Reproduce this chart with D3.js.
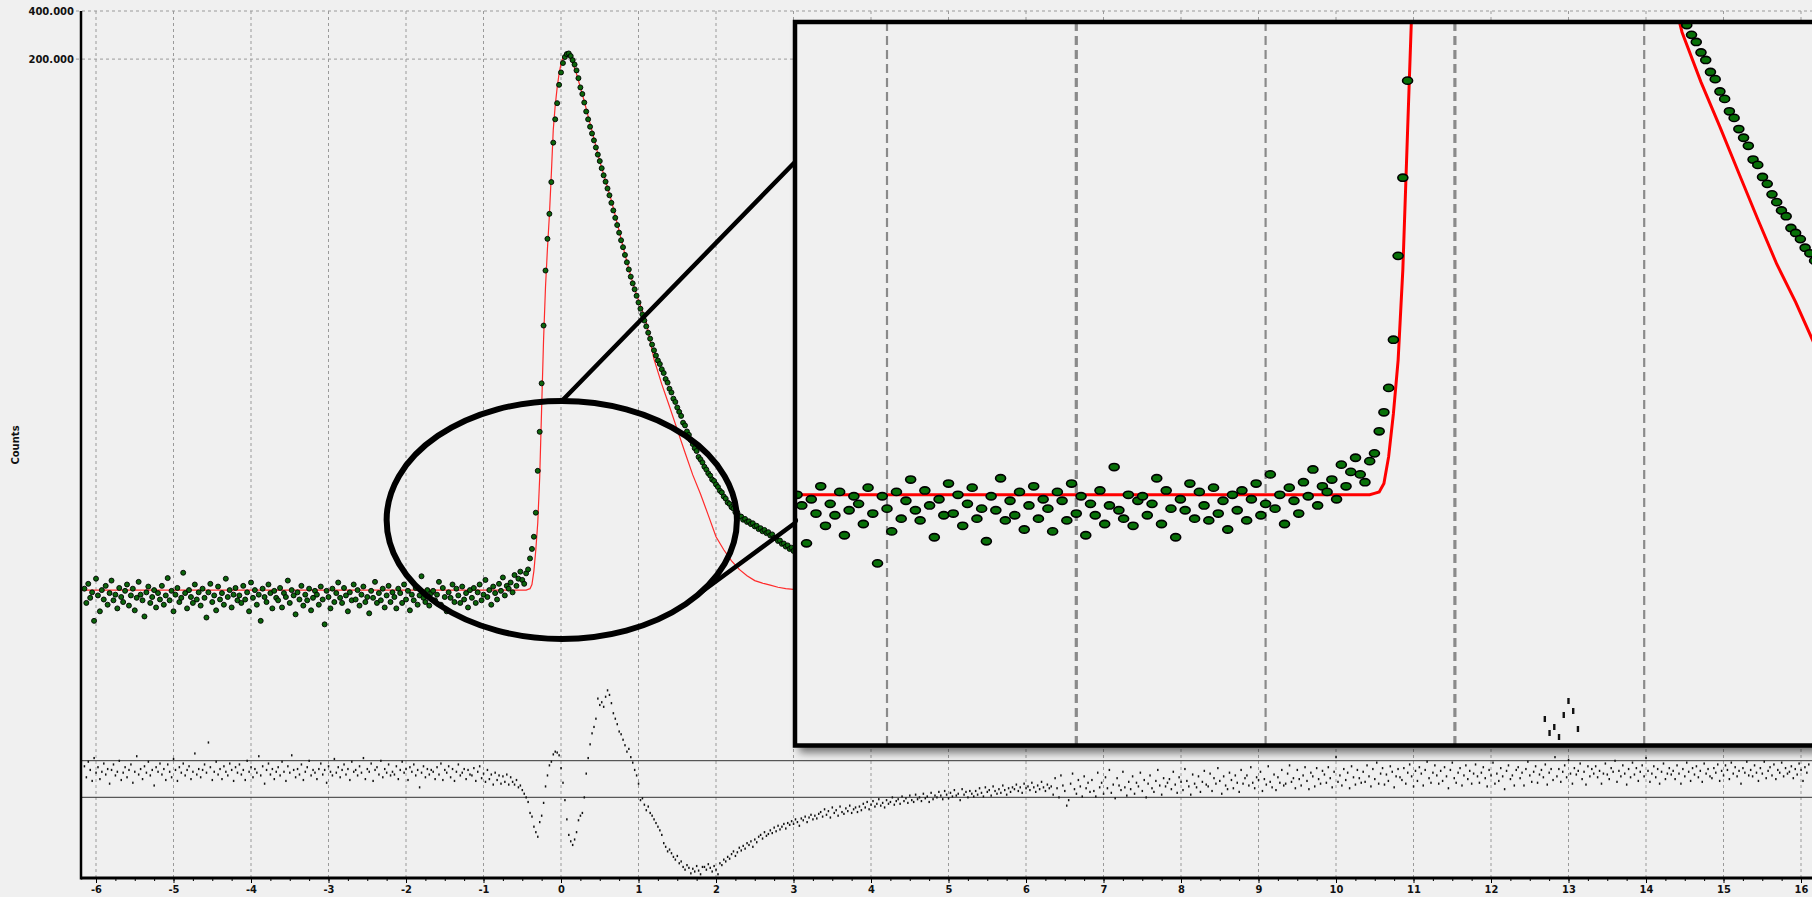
<!DOCTYPE html>
<html>
<head>
<meta charset="utf-8">
<script src="https://cdn.jsdelivr.net/npm/d3@7"></script>
<style>
  html, body { margin: 0; padding: 0; background: #f0f0f0; }
  svg { display: block; }
</style>
</head>
<body>
<svg id="chart" width="1812" height="897"></svg>
<script>
// time axis of the histogram (ns)
const channelStart = -6.15;
const channelWidth = 0.025;

// measured counts per channel, -6.15 ns .. 3.0 ns (the rest is hidden behind the zoom box)
const counts = [
  97,79,104,85,92,61,112,88,70,95,83,101,77,91,109,82,89,73,98,86,
  80,94,103,76,88,97,71,85,107,89,82,65,92,100,79,86,95,74,91,83,
  101,77,88,113,82,94,70,89,98,80,85,122,91,73,95,86,79,103,83,92,
  76,97,85,64,92,104,80,88,71,100,83,91,77,112,86,95,74,89,98,82,
  88,79,101,83,92,70,106,85,95,77,89,61,97,86,80,103,91,73,94,85,
  82,98,74,91,86,109,79,95,88,67,92,83,101,76,89,82,97,71,85,94,
  89,77,100,83,58,94,86,73,97,80,91,106,85,79,98,88,70,92,82,103,
  83,95,76,89,100,80,86,68,94,85,107,79,91,82,97,74,88,101,80,92,
  86,73,97,91,79,103,83,94,71,89,82,98,77,88,116,85,80,95,76,91,
  94,82,89,107,77,98,86,70,92,85,103,80,97,88,79,100,83,91,74,95,
  85,98,79,92,103,82,89,110,86,95,77,100,91,83,104,94,114,88,101,97,
  106,92,118,101,112,124,
  110,104,121,128,150,172,205,290,530,930,1870,4300,9500,15000,21500,34000,60000,84000,106000,138000,165000,
  189000,206000,215000,217000,209000,197000,185000,170000,152000,133000,121000,107000,94000,84000,75500,68500,62000,56000,50500,46000,
  41500,37500,34200,31000,28100,25200,22600,20300,18300,16400,14700,13300,11900,10700,9650,8700,7900,7250,6600,6000,
  5480,5050,4620,4250,3880,3560,3270,3010,2790,2600,2470,2290,2170,1990,1890,1730,1640,1500,1430,1320,
  1240,1170,1060,1020,935,890,825,780,735,705,648,625,598,562,540,512,495,468,458,436,
  420,398,388,366,355,336,329,314,308,292,291,276,274,262,265,254,256,246,249,238,
  240,229,232,222,226,216,219,209,212,202,200,193,194,185,186,178,181,172,175,167
];

// weighted residuals per channel (tenths of sigma), -6.15 ns .. 16.1 ns
const residuals = [
  14,2,19,10,-2,23,7,13,0,8,17,5,11,-5,10,16,4,8,20,-1,
  7,13,2,10,16,-4,8,25,5,11,0,14,7,19,4,10,-7,13,8,17,
  5,11,-1,16,8,2,22,10,-2,13,7,17,4,10,14,0,8,28,5,11,
  2,10,16,7,40,13,-1,8,19,5,11,0,14,8,4,17,10,-2,13,7,
  16,5,10,-1,20,8,13,2,11,7,25,4,14,-5,10,17,5,11,0,8,
  13,4,19,8,-2,14,7,26,10,2,11,5,16,-1,8,13,20,4,10,7,
  0,11,17,5,10,-4,14,8,4,22,7,13,2,10,16,5,11,-1,19,8,
  10,4,14,7,23,0,11,8,17,-2,10,13,5,20,2,11,7,16,4,8,
  5,14,0,10,19,7,11,-1,13,8,16,4,10,-9,7,14,2,11,5,10,
  8,0,13,5,17,-1,10,7,14,2,11,-2,8,16,4,7,11,0,10,5,
  4,12,-2,8,14,1,6,-3,10,0,5,-6,7,-1,4,-5,3,-3,5,-6,
  2,-3,-6,-1,-9,-7,-12,-16,-20,-25,-37,-41,-52,-58,-63,-47,-40,-26,-8,4,
  15,19,27,30,29,26,12,-4,-23,-44,-61,-68,-72,-66,-58,-45,-40,-37,-20,6,
  23,38,50,57,66,88,81,84,79,90,97,92,83,72,66,60,52,49,43,37,
  30,33,24,18,10,4,-5,-23,-21,-28,-34,-30,-37,-40,-44,-48,-52,-56,-61,-70,
  -74,-79,-77,-81,-85,-88,-84,-92,-90,-96,-99,-94,-97,-103,-98,-101,-95,-100,-104,-96,
  -96,-99,-93,-97,-101,-95,-99,-104,-92,-94,-88,-90,-85,-87,-82,-79,-84,-80,-75,-78,
  -73,-76,-70,-72,-68,-74,-66,-69,-63,-61,-65,-58,-62,-60,-56,-59,-53,-57,-51,-55,
  -52,-49,-54,-48,-50,-46,-49,-44,-47,-51,-43,-45,-41,-47,-42,-39,-44,-40,-43,-38,
  -36,-41,-33,-39,-35,-42,-31,-37,-34,-40,-30,-36,-38,-32,-35,-29,-37,-33,-31,-36,
  -30,-34,-27,-31,-25,-33,-28,-24,-30,-27,-22,-29,-26,-31,-23,-27,-25,-20,-28,-24,
  -22,-27,-19,-24,-21,-26,-18,-23,-25,-17,-22,-20,-24,-16,-21,-19,-25,-15,-22,-18,
  -20,-14,-18,-22,-13,-17,-21,-15,-19,-12,-18,-16,-23,-11,-17,-14,-20,-13,-16,-19,
  -13,-17,-10,-15,-19,-9,-14,-12,-18,-8,-13,-16,-11,-15,-7,-12,-17,-10,-14,-9,
  -11,-6,-13,-9,-15,-5,-10,-8,-12,-4,-9,-14,-7,-11,-3,-9,-13,-6,-10,-8,
  -17,1,-10,-20,4,-7,-13,-29,-23,-5,6,-11,-16,-1,-8,-19,3,-10,-4,-14,
  -1,-13,-19,7,-9,-4,-16,2,-10,10,-15,-6,-21,1,-7,-12,8,-9,-18,-3,
  -11,3,-16,-4,-8,7,-13,-1,-20,-5,4,-10,-14,-2,10,-7,-17,1,-8,-4,
  0,-11,8,-6,-15,2,-3,-12,11,-2,-8,-17,5,-5,-9,3,-14,-3,9,-6,
  -8,6,-13,1,-5,12,-2,-16,3,-7,-11,7,-1,-10,4,-4,-14,10,-5,1,
  4,-7,13,-4,-10,2,-1,8,-13,0,-6,14,-3,-9,5,-12,2,-4,10,-7,
  -5,6,15,-3,1,-10,10,0,-7,4,13,-2,-11,7,3,-8,12,0,-5,9,
  5,-4,13,1,-9,8,24,-3,4,-7,11,-1,7,-10,14,2,-6,10,1,-4,
  8,-3,15,3,-8,11,0,18,-5,6,12,-6,5,-2,14,8,-9,3,11,2,
  -1,12,-5,7,16,3,-8,9,-2,13,6,-7,10,19,1,-4,7,15,4,-5,
  9,-2,13,3,-10,10,18,1,-4,7,12,-7,4,15,0,9,-5,6,16,3,
  -4,7,13,1,-8,10,4,18,-5,6,-2,12,3,-11,9,15,0,4,-7,10,
  13,1,7,-7,11,19,4,-3,8,14,-4,5,10,2,16,-6,7,11,-1,24,
  3,11,-3,8,15,2,21,6,-5,12,5,9,17,0,8,-6,14,3,11,6,
  14,2,9,-5,6,17,5,0,12,8,20,-3,9,3,15,6,-6,11,2,18,
  5,12,-2,8,15,3,23,9,-3,6,14,2,11,-5,8,17,0,6,12,5,
  9,0,15,6,-5,11,3,18,8,-2,12,5,14,2,9,-3,17,6,11,3,
  1,12,7,16,-2,9,4,15,10,0,18,6,13,3,9,-5,12,7,19,4,
  10,3,15,7,-2,12,6,19,1,9,13,4,16,0,10,7,18,3,12,6,
  8,14,1,11,5,17,10,-2,13,7,16
];

// fitted decay curve
const fitTimes = [-6.2, -0.45, -0.425, -0.4, -0.375, -0.35, -0.325, -0.3, -0.275, -0.25, -0.225, -0.2, -0.175,
  -0.15, -0.125, -0.1, -0.075, -0.05, -0.025, 0, 0.025, 0.05, 0.075, 0.1, 0.15, 0.2, 0.25, 0.3, 0.35, 0.4,
  0.45, 0.5, 0.55, 0.6, 0.65, 0.7, 0.75, 0.8, 0.85, 0.9, 0.95, 1.0, 1.1, 1.2, 1.3, 1.4, 1.5, 1.6, 1.7, 1.8,
  1.9, 2.0, 2.1, 2.2, 2.3, 2.4, 2.5, 2.6, 2.7, 2.8, 2.9, 3.0, 16.1];
const fitCounts = [95, 95, 96, 97, 103, 125, 170, 250, 480, 1300, 3500, 7500, 13000,
  21000, 38000, 72000, 102000, 132000, 162000, 187000, 204000, 214000, 217000, 213000, 190000, 162000, 133000, 109000, 88000, 71000,
  57000, 46000, 38000, 31500, 26000, 21000, 16800, 13400, 10800, 8800, 7300, 6200, 4500, 2650, 1850, 1340, 960, 690, 500, 380,
  280, 205, 170, 145, 128, 117, 109, 105, 102, 99, 97, 96, 95];

const xTicks = [-6, -5, -4, -3, -2, -1, 0, 1, 2, 3, 4, 5, 6, 7, 8, 9, 10, 11, 12, 13, 14, 15, 16];
const yTicks = [400000, 200000];
const yTickLabels = ["400.000", "200.000"];
const insetTicks = [-3, -2, -1, 0, 1];

// region circled on the main plot (ns, counts)
const zoomTimes = [-2.25, 2.27];
const zoomCounts = [47, 1450];

let svg = d3.select("#chart");

let dims = { left: 81, right: 1812, top: 11, bottom: 878 };

let xScale = d3.scaleLinear().domain([-6, 16]).range([96, 1801]);
let yScale = d3.scaleLog().domain([1.5, 400000]).range([dims.bottom, dims.top]);
let rScale = d3.scaleLinear().domain([-20, 20]).range([797.3, 760.7]); // residual band

let points = counts.map((c, i) => ({ t: channelStart + i * channelWidth, c: c }));
let resPoints = residuals.map((v, i) => ({ t: channelStart + i * channelWidth, v: v }));
let fit = fitTimes.map((t, i) => ({ t: t, c: fitCounts[i] }));

let defs = svg.append("defs");
defs.append("clipPath").attr("id", "plotclip")
  .append("rect").attr("x", dims.left).attr("y", 0)
  .attr("width", dims.right - dims.left).attr("height", dims.bottom);

let filter = defs.append("filter").attr("id", "shadow")
  .attr("x", "-5%").attr("y", "-5%").attr("width", "115%").attr("height", "115%");
filter.append("feDropShadow").attr("dx", 4).attr("dy", 7).attr("stdDeviation", 4)
  .attr("flood-color", "#000").attr("flood-opacity", 0.55);

// grid
svg.append("g").selectAll("line").data(xTicks).join("line")
  .attr("x1", d => xScale(d)).attr("x2", d => xScale(d))
  .attr("y1", dims.top).attr("y2", dims.bottom)
  .attr("stroke", "#9a9a9a").attr("stroke-dasharray", "3,3");

svg.append("g").selectAll("line").data(yTicks).join("line")
  .attr("x1", 76).attr("x2", dims.right)
  .attr("y1", d => yScale(d)).attr("y2", d => yScale(d))
  .attr("stroke", "#9a9a9a").attr("stroke-dasharray", "3,3");

svg.append("g").selectAll("text").data(yTicks).join("text")
  .attr("x", 74).attr("y", d => yScale(d) + 3.5)
  .attr("text-anchor", "end")
  .attr("font-family", "DejaVu Sans, Verdana, sans-serif")
  .attr("font-weight", "bold").attr("font-size", 10)
  .attr("fill", "#111")
  .text((d, i) => yTickLabels[i]);

svg.append("text")
  .attr("transform", "translate(19,445) rotate(-90)")
  .attr("text-anchor", "middle")
  .attr("font-family", "DejaVu Sans, Verdana, sans-serif")
  .attr("font-weight", "bold").attr("font-size", 10)
  .attr("fill", "#111")
  .text("Counts");

// residual guide lines
svg.append("g").selectAll("line").data([-20, 20]).join("line")
  .attr("x1", dims.left).attr("x2", dims.right)
  .attr("y1", d => rScale(d)).attr("y2", d => rScale(d))
  .attr("stroke", "#333").attr("stroke-width", 1);

let plot = svg.append("g").attr("clip-path", "url(#plotclip)");

plot.append("g").selectAll("rect").data(resPoints).join("rect")
  .attr("x", d => xScale(d.t) - 0.7).attr("y", d => rScale(d.v) - 1)
  .attr("width", 1.5).attr("height", 2.2)
  .attr("fill", "#111");

let line = d3.line().x(d => xScale(d.t)).y(d => yScale(d.c));
plot.append("path").datum(fit)
  .attr("d", line)
  .attr("fill", "none").attr("stroke", "#ff2a2a").attr("stroke-width", 1.2);

plot.append("g").selectAll("circle").data(points).join("circle")
  .attr("cx", d => xScale(d.t)).attr("cy", d => yScale(d.c))
  .attr("r", 2.5)
  .attr("fill", "#0b650b").attr("stroke", "#000").attr("stroke-width", 0.9);

// axes
let minorTicks = d3.range(-24, 65).map(i => i / 4);
let gMinor = svg.append("g").attr("transform", "translate(0," + dims.bottom + ")")
  .call(d3.axisBottom(xScale).tickValues(minorTicks).tickSize(3).tickFormat(""));
gMinor.select(".domain").remove();

let gx = svg.append("g").attr("transform", "translate(0," + dims.bottom + ")")
  .call(d3.axisBottom(xScale).tickValues(xTicks).tickSize(5).tickPadding(2).tickFormat(d => String(d)));
gx.select(".domain").remove();
gx.selectAll("text")
  .attr("font-family", "Liberation Sans Narrow, DejaVu Sans Condensed, Arial Narrow, sans-serif")
  .attr("font-weight", "bold").attr("font-size", 11).attr("fill", "#111");

svg.append("line")
  .attr("x1", dims.left).attr("x2", dims.right)
  .attr("y1", dims.bottom).attr("y2", dims.bottom)
  .attr("stroke", "#000").attr("stroke-width", 3);
svg.append("line")
  .attr("x1", dims.left).attr("x2", dims.left)
  .attr("y1", dims.top).attr("y2", dims.bottom + 1.5)
  .attr("stroke", "#000").attr("stroke-width", 2.5);

// ellipse marking the zoomed region
let ex0 = xScale(zoomTimes[0]), ex1 = xScale(zoomTimes[1]);
let ey0 = yScale(zoomCounts[1]), ey1 = yScale(zoomCounts[0]);
let ell = { cx: (ex0 + ex1) / 2, cy: (ey0 + ey1) / 2, rx: (ex1 - ex0) / 2, ry: (ey1 - ey0) / 2 };

svg.append("ellipse")
  .attr("cx", ell.cx).attr("cy", ell.cy).attr("rx", ell.rx).attr("ry", ell.ry)
  .attr("fill", "none").attr("stroke", "#000").attr("stroke-width", 6);

let inset = { x: 795, y: 22, w: 1040, h: 723.5 };

let ang = 38 * Math.PI / 180;
let connectors = [
  [[ell.cx, ell.cy - ell.ry], [inset.x, inset.y + 0.1935 * inset.h]],
  [[ell.cx + ell.rx * Math.cos(ang), ell.cy + ell.ry * Math.sin(ang)], [inset.x, inset.y + 0.6925 * inset.h]]
];
svg.append("g").selectAll("line").data(connectors).join("line")
  .attr("x1", d => d[0][0]).attr("y1", d => d[0][1])
  .attr("x2", d => d[1][0]).attr("y2", d => d[1][1])
  .attr("stroke", "#000").attr("stroke-width", 4.5).attr("stroke-linecap", "round");

// magnified inset
let ixScale = d3.scaleLinear().domain([-3, 1]).range([887, 1644.2]);
let iyScale = d3.scaleLog().domain([15.7, 2872]).range([745, 21]);
let irScale = d3.scaleLinear().domain([-20, 20]).range([935, 855]);

defs.append("clipPath").attr("id", "insetclip")
  .append("rect").attr("x", inset.x).attr("y", inset.y).attr("width", inset.w).attr("height", inset.h);

svg.append("rect")
  .attr("x", inset.x).attr("y", inset.y).attr("width", inset.w).attr("height", inset.h)
  .attr("fill", "#f0f0f0").attr("filter", "url(#shadow)");

let ig = svg.append("g").attr("clip-path", "url(#insetclip)");

ig.append("g").selectAll("line").data(insetTicks).join("line")
  .attr("x1", d => ixScale(d)).attr("x2", d => ixScale(d))
  .attr("y1", inset.y).attr("y2", inset.y + inset.h)
  .attr("stroke", "#8a8a8a")
  .attr("stroke-width", d => (d % 2 === 0 ? 3.2 : 2.2))
  .attr("stroke-dasharray", "9,5");

let iline = d3.line().x(d => ixScale(d.t)).y(d => iyScale(d.c));
ig.append("path").datum(fit)
  .attr("d", iline)
  .attr("fill", "none").attr("stroke", "#ff0000").attr("stroke-width", 3);

ig.append("g").selectAll("ellipse").data(points).join("ellipse")
  .attr("cx", d => ixScale(d.t)).attr("cy", d => iyScale(d.c))
  .attr("rx", 5).attr("ry", 3.6)
  .attr("fill", "#087008").attr("stroke", "#000").attr("stroke-width", 1.6);

ig.append("g").selectAll("rect").data(resPoints).join("rect")
  .attr("x", d => ixScale(d.t) - 1.2).attr("y", d => irScale(d.v) - 3)
  .attr("width", 2.4).attr("height", 6)
  .attr("fill", "#111");

svg.append("rect")
  .attr("x", inset.x).attr("y", inset.y).attr("width", inset.w).attr("height", inset.h)
  .attr("fill", "none").attr("stroke", "#000").attr("stroke-width", 4.5);
</script>
</body>
</html>
